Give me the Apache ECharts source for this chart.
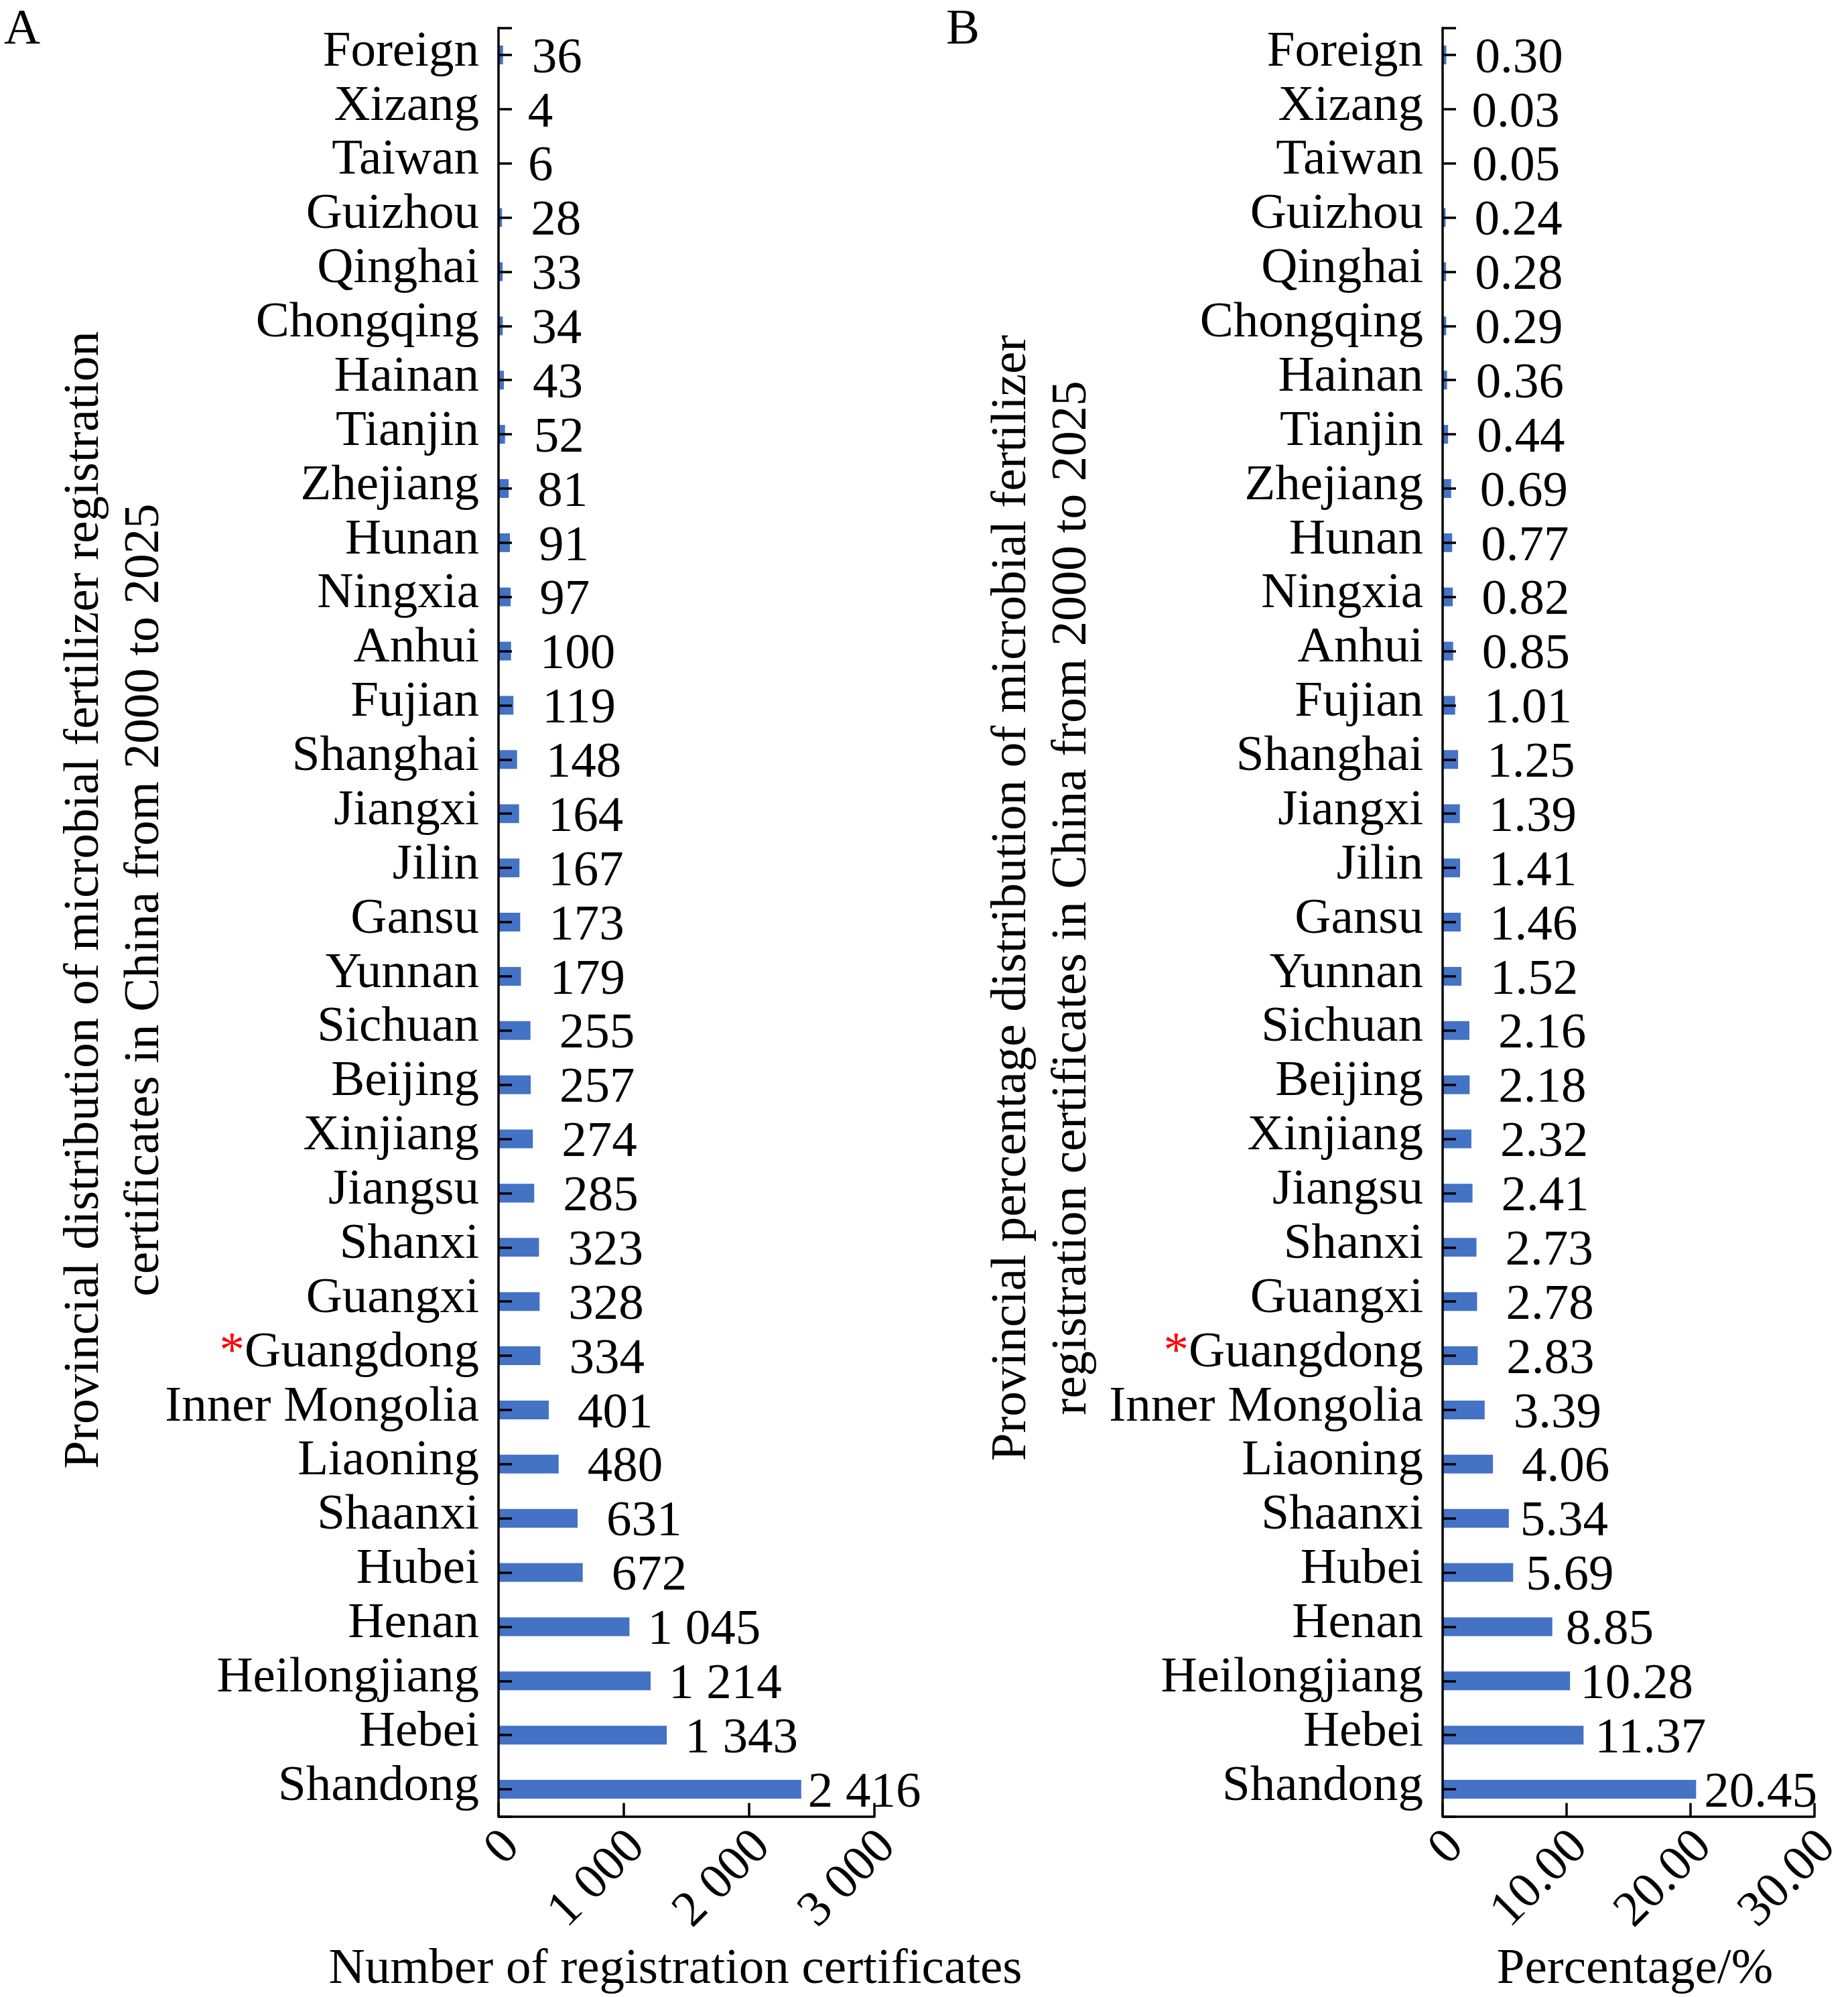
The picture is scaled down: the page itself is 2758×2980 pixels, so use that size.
<!DOCTYPE html>
<html lang="en">
<head>
<meta charset="UTF-8">
<title>Microbial fertilizer registration certificates by province</title>
<style>
    html, body { margin: 0; padding: 0; background: #fff; overflow: hidden; }
    #container { width: 2758px; height: 2980px; }
</style>
</head>
<body>
<div id="container"></div>
<script src="https://cdn.jsdelivr.net/npm/echarts@6/dist/echarts.min.js"></script>
<script>
// provinces, listed top to bottom as in the figure
var provinces = ['Foreign', 'Xizang', 'Taiwan', 'Guizhou', 'Qinghai', 'Chongqing', 'Hainan',
    'Tianjin', 'Zhejiang', 'Hunan', 'Ningxia', 'Anhui', 'Fujian', 'Shanghai', 'Jiangxi', 'Jilin',
    'Gansu', 'Yunnan', 'Sichuan', 'Beijing', 'Xinjiang', 'Jiangsu', 'Shanxi', 'Guangxi',
    'Guangdong', 'Inner Mongolia', 'Liaoning', 'Shaanxi', 'Hubei', 'Henan', 'Heilongjiang',
    'Hebei', 'Shandong'];
var starred = ['Guangdong'];

// panel A: number of certificates
var certCounts = [36, 4, 6, 28, 33, 34, 43, 52, 81, 91, 97, 100, 119, 148, 164, 167, 173, 179,
    255, 257, 274, 285, 323, 328, 334, 401, 480, 631, 672, 1045, 1214, 1343, 2416];
// panel B: share in percent
var certPercent = [0.30, 0.03, 0.05, 0.24, 0.28, 0.29, 0.36, 0.44, 0.69, 0.77, 0.82, 0.85, 1.01,
    1.25, 1.39, 1.41, 1.46, 1.52, 2.16, 2.18, 2.32, 2.41, 2.73, 2.78, 2.83, 3.39, 4.06, 5.34,
    5.69, 8.85, 10.28, 11.37, 20.45];

var countTicks = ['0', '1 000', '2 000', '3 000'];
var percentTicks = ['0', '10.00', '20.00', '30.00'];

// labels that sit closer to the bar end than the rest
var labelGapA = { 'Henan': 27, 'Heilongjiang': 27, 'Hebei': 27, 'Shandong': 10 };
var labelGapB = { 'Shaanxi': 17, 'Hubei': 19, 'Henan': 20, 'Heilongjiang': 15, 'Hebei': 17, 'Shandong': 12 };

var FONT = '"Liberation Serif", "Times New Roman", serif';
var BLACK = '#000';
var lineStyle = { color: BLACK, width: 3.5 };

function spaced(n) {
    return String(n).replace(/\B(?=(\d{3})+(?!\d))/g, ' ');
}

function barData(values, gaps) {
    return values.map(function (v, i) {
        var item = { value: v };
        if (gaps[provinces[i]] !== undefined) {
            item.label = { distance: gaps[provinces[i]] };
        }
        return item;
    });
}

function categoryAxis(grid) {
    return {
        type: 'category',
        gridIndex: grid,
        position: 'left',
        data: provinces,
        inverse: true,
        z: 5,
        axisLine: { show: true, lineStyle: lineStyle },
        axisTick: { show: true, inside: true, length: 20, alignWithLabel: true, lineStyle: lineStyle },
        splitLine: { show: false },
        axisLabel: {
            interval: 0,
            margin: 29,
            color: BLACK,
            fontFamily: FONT,
            fontSize: 75,
            padding: [0, 0, 8, 0],
            formatter: function (name) {
                return starred.indexOf(name) >= 0 ? '{star|*}' + name : name;
            },
            rich: {
                star: { color: '#ff0000', fontFamily: FONT, fontSize: 75 }
            }
        }
    };
}

// a second, hidden category axis that only puts the small stub at the top end
function stubAxis(grid) {
    return {
        type: 'category',
        gridIndex: grid,
        position: 'left',
        offset: 0,
        data: provinces,
        inverse: true,
        z: 5,
        axisLine: { show: false },
        axisLabel: { show: false },
        splitLine: { show: false },
        axisTick: {
            show: true, inside: true, length: 20, alignWithLabel: false,
            interval: function (i) { return i === 0; },
            lineStyle: lineStyle
        }
    };
}

function valueAxis(grid, max, step, ticks) {
    return {
        type: 'value',
        gridIndex: grid,
        position: 'bottom',
        min: 0,
        max: max,
        interval: step,
        axisLine: { show: true, lineStyle: lineStyle },
        axisTick: { show: true, inside: true, length: 20, lineStyle: lineStyle },
        splitLine: { show: false },
        axisLabel: {
            rotate: 45,
            margin: 14,
            verticalAlign: 'top',
            lineHeight: 57,
            color: BLACK,
            fontFamily: FONT,
            fontSize: 75,
            formatter: function (v) { return ticks[Math.round(v / step)]; }
        }
    };
}

function barSeries(grid, values, gaps, fmt) {
    return {
        type: 'bar',
        xAxisIndex: grid,
        yAxisIndex: grid * 2,
        barWidth: 28,
        data: barData(values, gaps),
        itemStyle: { color: '#4472C4' },
        label: {
            show: true,
            position: 'right',
            distance: 43,
            offset: [0, 6],
            color: BLACK,
            fontFamily: FONT,
            fontSize: 75,
            formatter: function (p) { return fmt(p.value); }
        }
    };
}

function txt(x, y, text, opts) {
    var align = (opts && opts.align) || 'center';
    return {
        type: 'text',
        x: x,
        y: y,
        rotation: (opts && opts.rotation) || 0,
        style: {
            text: text,
            fill: BLACK,
            font: '75px ' + FONT,
            lineHeight: 90,
            align: align,
            textAlign: align,
            verticalAlign: 'middle',
            textVerticalAlign: 'middle'
        }
    };
}

var chart = echarts.init(document.getElementById('container'), null, { renderer: 'canvas' });

chart.setOption({
    backgroundColor: '#ffffff',
    animation: false,
    grid: [
        { left: 744, width: 561, top: 41.5, height: 2669, outerBoundsMode: 'none' },
        { left: 2153, width: 555, top: 41.5, height: 2669, outerBoundsMode: 'none' }
    ],
    xAxis: [
        valueAxis(0, 3000, 1000, countTicks),
        valueAxis(1, 30, 10, percentTicks)
    ],
    yAxis: [
        categoryAxis(0), stubAxis(0),
        categoryAxis(1), stubAxis(1)
    ],
    series: [
        barSeries(0, certCounts, labelGapA, spaced),
        barSeries(1, certPercent, labelGapB, function (v) { return v.toFixed(2); })
    ],
    graphic: [
        txt(6, 45, 'A', { align: 'left' }),
        txt(1412, 45, 'B', { align: 'left' }),
        txt(171, 1343, 'Provincial distribution of microbial fertilizer registration\ncertificates in China from 2000 to 2025', { rotation: Math.PI / 2 }),
        txt(1555, 1340, 'Provincial percentage distribution of microbial fertilizer\nregistration certificates in China from 2000 to 2025', { rotation: Math.PI / 2 }),
        txt(1008, 2939, 'Number of registration certificates'),
        txt(2440, 2939, 'Percentage/%')
    ]
});
</script>
</body>
</html>
